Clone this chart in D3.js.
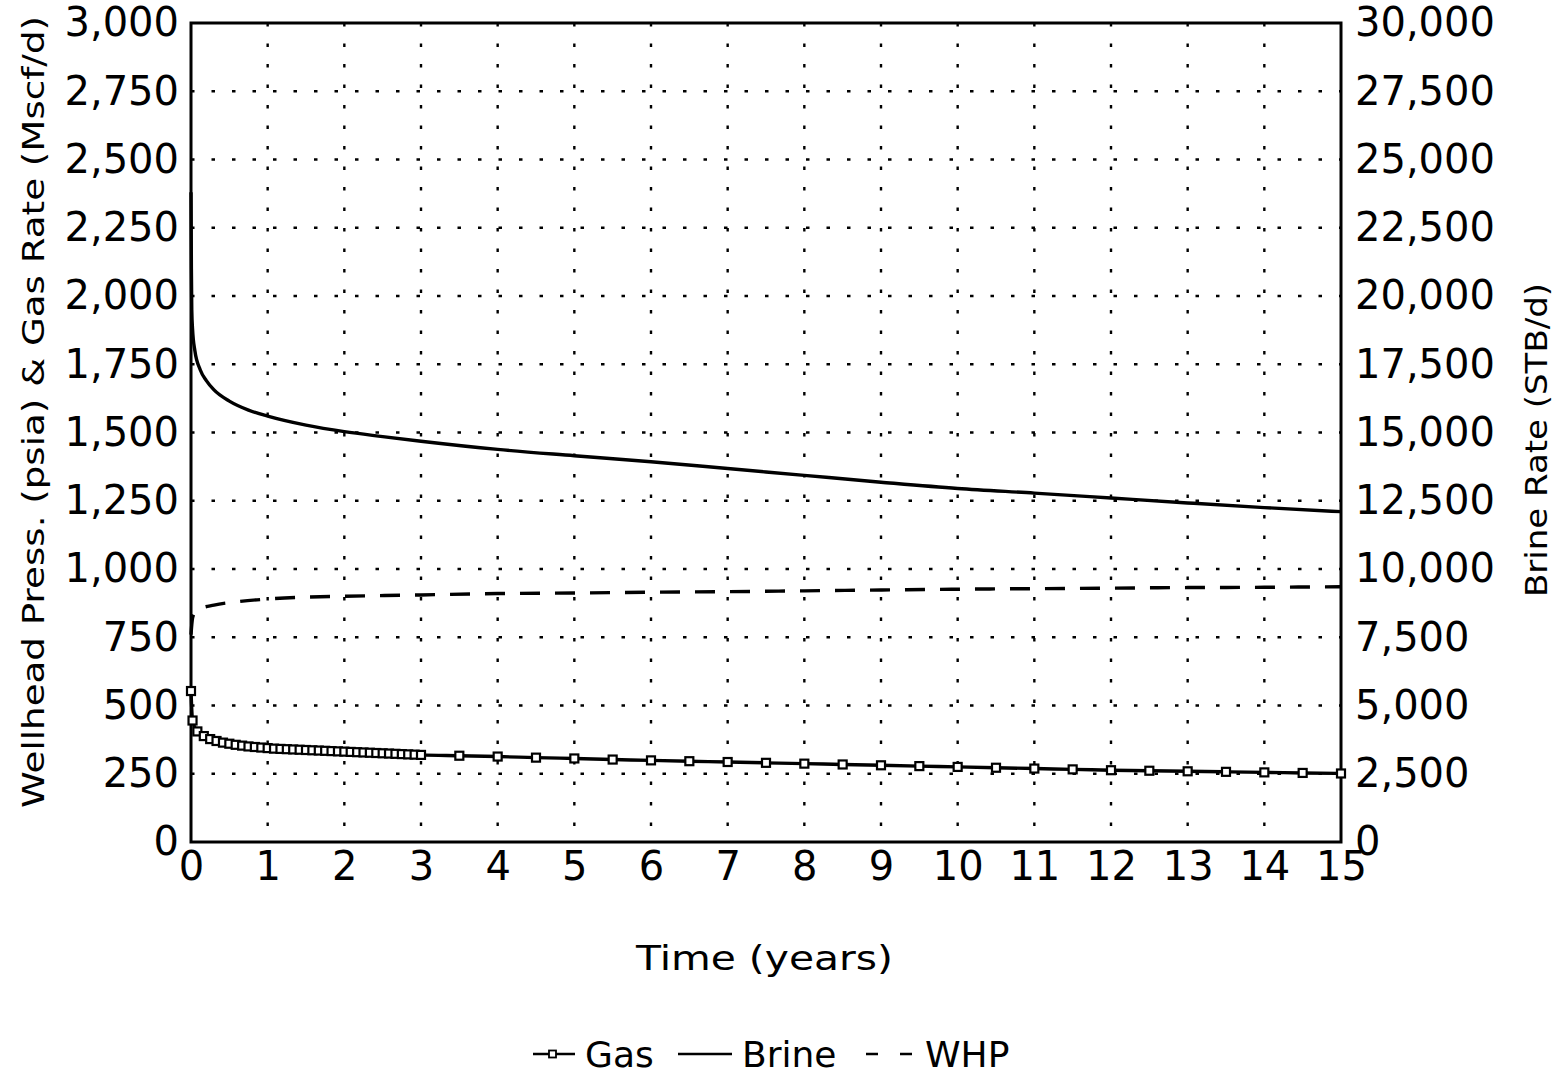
<!DOCTYPE html>
<html>
<head>
<meta charset="utf-8">
<script src="https://cdn.jsdelivr.net/npm/d3@7"></script>
<style>
  body { margin: 0; background: #fff; }
  svg { display: block; }
  text { font-family: "DejaVu Sans", "Liberation Sans", sans-serif; fill: #000; }
</style>
</head>
<body>
<div id="chart"></div>
<script>
// ---- data ----
const gasTime = [0, 0.02, 0.083, 0.167, 0.25, 0.333, 0.417, 0.5, 0.583, 0.667, 0.75, 0.833, 0.917, 1.0,
  1.083, 1.167, 1.25, 1.333, 1.417, 1.5, 1.583, 1.667, 1.75, 1.833, 1.917, 2.0,
  2.083, 2.167, 2.25, 2.333, 2.417, 2.5, 2.583, 2.667, 2.75, 2.833, 2.917, 3.0,
  3.5, 4, 4.5, 5, 5.5, 6, 6.5, 7, 7.5, 8, 8.5, 9, 9.5, 10, 10.5, 11, 11.5, 12, 12.5, 13, 13.5, 14, 14.5, 15];
const gasRate = [553, 445, 405, 388, 377, 370, 364, 360, 356, 353, 350, 348, 346, 344,
  342, 341, 340, 339, 338, 337, 336, 335, 334, 333, 332, 331,
  330, 329, 328, 327, 326, 325, 324, 323, 322, 321, 320, 319,
  316, 313, 309, 306, 302, 299, 296, 293, 290, 287, 284, 281, 278, 275, 272, 269, 266, 263, 261, 259, 257, 255, 253, 251];

const brineTime = [0, 0.005, 0.01, 0.02, 0.05, 0.12, 0.2, 0.3, 0.5, 0.75, 1, 1.5, 2, 2.5, 3, 4, 5, 6, 7, 8, 9, 10, 11, 12, 13, 14, 15];
const brineRate = [23800, 21000, 19500, 18800, 18000, 17300, 16900, 16560, 16150, 15820, 15600, 15270, 15030, 14850, 14680,
  14380, 14150, 13930, 13680, 13430, 13180, 12950, 12780, 12600, 12420, 12250, 12100];

const whpTime = [0, 0.02, 0.05, 0.1, 0.3, 0.6, 1, 1.5, 2, 3, 4, 5, 6, 7, 8, 9, 10, 11, 12, 13, 14, 15];
const whpPress = [760, 820, 840, 852, 868, 880, 890, 897, 900, 905, 910, 912, 915, 917, 920, 923, 926, 928, 930, 932, 933, 935];

const xTicks = d3.range(0, 16);
const leftTicks = d3.range(0, 3001, 250);
const rightTicks = d3.range(0, 30001, 2500);

const legendNames = ["Gas", "Brine", "WHP"];

// ---- layout ----
const W = 1558, H = 1076;
const plot = {left: 191, right: 1341, top: 23, bottom: 842};

const svg = d3.select("#chart").append("svg")
  .attr("width", W).attr("height", H);

const x = d3.scaleLinear().domain([0, 15]).range([plot.left, plot.right]);
const yL = d3.scaleLinear().domain([0, 3000]).range([plot.bottom, plot.top]);
const yR = d3.scaleLinear().domain([0, 30000]).range([plot.bottom, plot.top]);

// grid
const grid = svg.append("g")
  .attr("stroke", "#000")
  .attr("stroke-width", 2.4)
  .attr("stroke-dasharray", "3.5,17");

grid.selectAll(".vg")
  .data(xTicks.filter(d => d > 0 && d < 15))
  .enter().append("line")
    .attr("x1", d => x(d)).attr("x2", d => x(d))
    .attr("y1", plot.top).attr("y2", plot.bottom);

grid.selectAll(".hg")
  .data(leftTicks.filter(d => d > 0 && d < 3000))
  .enter().append("line")
    .attr("y1", d => yL(d)).attr("y2", d => yL(d))
    .attr("x1", plot.left).attr("x2", plot.right);

// frame
svg.append("rect")
  .attr("x", plot.left).attr("y", plot.top)
  .attr("width", plot.right - plot.left)
  .attr("height", plot.bottom - plot.top)
  .attr("fill", "none")
  .attr("stroke", "#000")
  .attr("stroke-width", 3);

// axes (labels only)
const fontSize = 40;

const xAxis = svg.append("g")
  .attr("transform", "translate(0," + plot.bottom + ")")
  .call(d3.axisBottom(x).tickValues(xTicks).tickSize(0).tickPadding(10).tickFormat(d3.format("d")));

const leftAxis = svg.append("g")
  .attr("transform", "translate(" + plot.left + ",0)")
  .call(d3.axisLeft(yL).tickValues(leftTicks).tickSize(0).tickPadding(12).tickFormat(d3.format(",")));

const rightAxis = svg.append("g")
  .attr("transform", "translate(" + plot.right + ",0)")
  .call(d3.axisRight(yR).tickValues(rightTicks).tickSize(0).tickPadding(14).tickFormat(d3.format(",")));

[xAxis, leftAxis, rightAxis].forEach(a => {
  a.select(".domain").remove();
  a.selectAll("text")
    .style("font-family", "'DejaVu Sans', sans-serif")
    .style("font-size", fontSize + "px")
    .attr("fill", "#000");
});

// axis titles
svg.append("text")
  .attr("transform", "translate(44," + 412 + ") rotate(-90)")
  .attr("text-anchor", "middle")
  .style("font-size", "30px")
  .attr("textLength", 792)
  .attr("lengthAdjust", "spacingAndGlyphs")
  .text("Wellhead Press. (psia) & Gas Rate (Mscf/d)");

svg.append("text")
  .attr("transform", "translate(1547," + 440 + ") rotate(-90)")
  .attr("text-anchor", "middle")
  .style("font-size", "30px")
  .attr("textLength", 314)
  .attr("lengthAdjust", "spacingAndGlyphs")
  .text("Brine Rate (STB/d)");

svg.append("text")
  .attr("x", (636 + 893) / 2)
  .attr("y", 970)
  .attr("text-anchor", "middle")
  .style("font-size", "34px")
  .attr("textLength", 257)
  .attr("lengthAdjust", "spacingAndGlyphs")
  .text("Time  (years)");

// series
const gasData = gasTime.map((t, i) => ({t: t, v: gasRate[i]}));
const brineData = brineTime.map((t, i) => ({t: t, v: brineRate[i]}));
const whpData = whpTime.map((t, i) => ({t: t, v: whpPress[i]}));

svg.append("path")
  .datum(brineData)
  .attr("fill", "none")
  .attr("stroke", "#000")
  .attr("stroke-width", 3.4)
  .attr("d", d3.line().x(d => x(d.t)).y(d => yR(d.v)).curve(d3.curveMonotoneX));

svg.append("path")
  .datum(whpData)
  .attr("fill", "none")
  .attr("stroke", "#000")
  .attr("stroke-width", 3.4)
  .attr("stroke-dasharray", "20,15")
  .attr("d", d3.line().x(d => x(d.t)).y(d => yL(d.v)).curve(d3.curveMonotoneX));

svg.append("path")
  .datum(gasData)
  .attr("fill", "none")
  .attr("stroke", "#000")
  .attr("stroke-width", 3.4)
  .attr("d", d3.line().x(d => x(d.t)).y(d => yL(d.v)).curve(d3.curveMonotoneX));

svg.append("g").selectAll("rect")
  .data(gasData)
  .enter().append("rect")
    .attr("x", d => x(d.t) - 4)
    .attr("y", d => yL(d.v) - 4)
    .attr("width", 8).attr("height", 8)
    .attr("fill", "#fff")
    .attr("stroke", "#000")
    .attr("stroke-width", 2.2);

// legend
const legend = svg.append("g");
const ly = 1054;

legend.append("line")
  .attr("x1", 533).attr("x2", 575).attr("y1", ly).attr("y2", ly)
  .attr("stroke", "#000").attr("stroke-width", 2.5);
legend.append("rect")
  .attr("x", 549).attr("y", ly - 3.5).attr("width", 7).attr("height", 7)
  .attr("fill", "#fff").attr("stroke", "#000").attr("stroke-width", 1.8);

legend.append("line")
  .attr("x1", 678).attr("x2", 732).attr("y1", ly).attr("y2", ly)
  .attr("stroke", "#000").attr("stroke-width", 2.5);

legend.append("line")
  .attr("x1", 866).attr("x2", 912).attr("y1", ly).attr("y2", ly)
  .attr("stroke", "#000").attr("stroke-width", 2.5)
  .attr("stroke-dasharray", "12,22");

const legendX = [585, 742, 925];
legend.selectAll(".lt")
  .data(legendNames)
  .enter().append("text")
    .attr("x", (d, i) => legendX[i])
    .attr("y", ly + 13)
    .style("font-size", "36px")
    .text(d => d);
</script>
</body>
</html>
